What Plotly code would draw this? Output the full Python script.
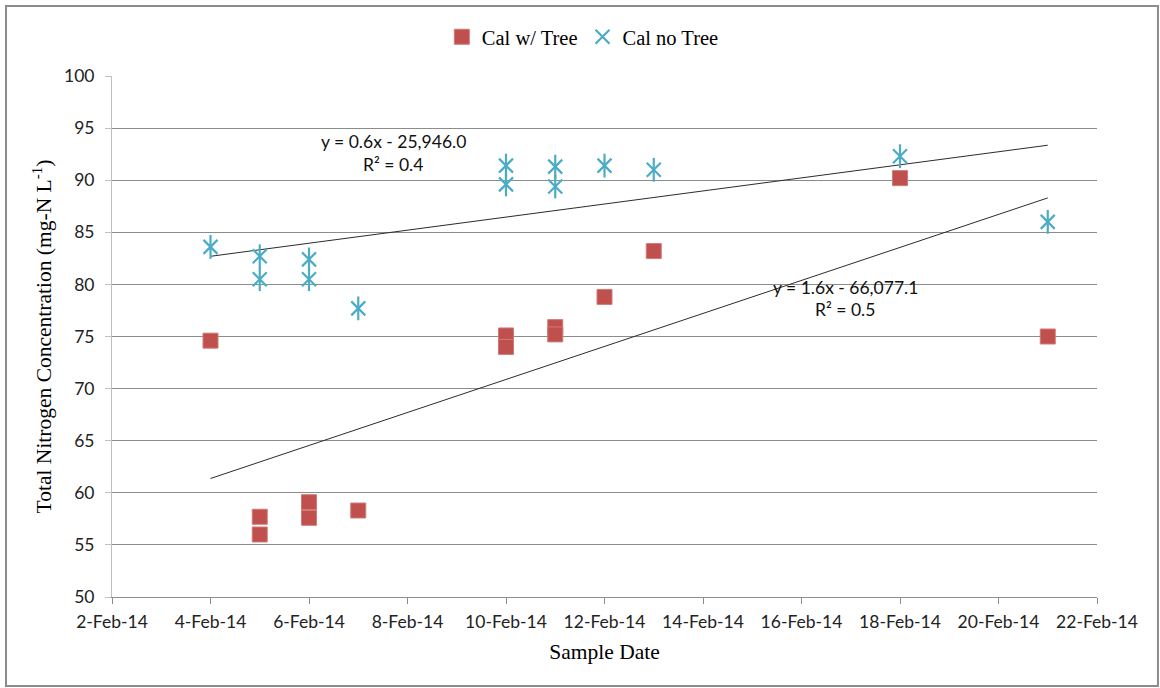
import numpy as np
import pandas as pd
import plotly.graph_objects as go

# ---- data ----
tree_dates = ["2014-02-04", "2014-02-05", "2014-02-05", "2014-02-06", "2014-02-06", "2014-02-07",
              "2014-02-10", "2014-02-10", "2014-02-11", "2014-02-11", "2014-02-12", "2014-02-13",
              "2014-02-18", "2014-02-21"]
tree_values = [74.6, 57.7, 56.0, 59.1, 57.6, 58.3, 75.1, 74.0, 75.9, 75.2, 78.8, 83.2, 90.2, 75.0]

notree_dates = ["2014-02-04", "2014-02-05", "2014-02-05", "2014-02-06", "2014-02-06", "2014-02-07",
                "2014-02-10", "2014-02-10", "2014-02-11", "2014-02-11", "2014-02-12", "2014-02-13",
                "2014-02-18", "2014-02-21"]
notree_values = [83.6, 82.7, 80.5, 82.4, 80.5, 77.7, 91.4, 89.6, 91.3, 89.4, 91.4, 91.0, 92.3, 86.0]

x_tick_start = "2014-02-02"
x_tick_end = "2014-02-22"
y_ticks = [50, 55, 60, 65, 70, 75, 80, 85, 90, 95, 100]

trend_notree_text = ["y = 0.6x - 25,946.0", "R² = 0.4"]
trend_tree_text = ["y = 1.6x - 66,077.1", "R² = 0.5"]

RED = "#C0504D"
BLUE = "#4BACC6"
SERIF = "Liberation Serif"
SANS = "Lato"


def trend(dates, values):
    d = pd.to_datetime(dates)
    days = (d - d.min()).days.values.astype(float)
    slope, intercept = np.polyfit(days, np.array(values), 1)
    xs = [d.min(), d.max()]
    ys = [intercept, intercept + slope * days.max()]
    return xs, ys


fig = go.Figure()

tx, ty = trend(tree_dates, tree_values)
nx, ny = trend(notree_dates, notree_values)

fig.add_trace(go.Scatter(x=nx, y=ny, mode="lines", line=dict(color="#2b2b2b", width=1),
                         showlegend=False, hoverinfo="skip"))
fig.add_trace(go.Scatter(x=tx, y=ty, mode="lines", line=dict(color="#2b2b2b", width=1),
                         showlegend=False, hoverinfo="skip"))

fig.add_trace(go.Scatter(
    x=pd.to_datetime(tree_dates), y=tree_values, mode="markers", name="Cal w/ Tree",
    marker=dict(symbol="square", size=15, color=RED, line=dict(color="#d07a77", width=1))))

fig.add_trace(go.Scatter(
    x=pd.to_datetime(notree_dates), y=notree_values, mode="markers", name="Cal no Tree",
    legendgroup="nt",
    marker=dict(symbol="x-thin-open", size=14, color=BLUE, line=dict(color=BLUE, width=2.2))))
fig.add_trace(go.Scatter(
    x=pd.to_datetime(notree_dates), y=notree_values, mode="markers", name="Cal no Tree",
    legendgroup="nt", showlegend=False,
    marker=dict(symbol="line-ns-open", size=17, color=BLUE, line=dict(color=BLUE, width=2.2))))

# trendline equations
for txt, yy in zip(trend_notree_text, [0.875, 0.831]):
    fig.add_annotation(x=0.2853, y=yy, xref="paper", yref="paper", text=txt, showarrow=False,
                       font=dict(family=SANS, size=17.5, color="#111"), xanchor="center", yanchor="middle")
for txt, yy in zip(trend_tree_text, [0.595, 0.551]):
    fig.add_annotation(x=0.7442, y=yy, xref="paper", yref="paper", text=txt, showarrow=False,
                       font=dict(family=SANS, size=17.5, color="#111"), xanchor="center", yanchor="middle")

# outer border
fig.add_shape(type="rect", xref="paper", yref="paper",
              x0=-0.1076, x1=1.0619, y0=-0.1708, y1=1.1344,
              line=dict(color="#8c8c8c", width=2), fillcolor="rgba(0,0,0,0)", layer="below")

fig.update_layout(
    width=1160, height=688,
    margin=dict(l=112, r=63, t=76, b=91),
    paper_bgcolor="white", plot_bgcolor="white",
    font=dict(family=SERIF, color="#000"),
    legend=dict(orientation="h", x=0.478, y=1.075, xanchor="center", yanchor="middle",
                font=dict(family=SERIF, size=20.5, color="#000"), itemwidth=30,
                bgcolor="rgba(0,0,0,0)"),
    xaxis=dict(
        type="date", range=[x_tick_start, x_tick_end], tick0=x_tick_start, dtick=2 * 86400000,
        tickformat="%-d-%b-%y", showgrid=False, showline=True, linecolor="#8c8c8c", linewidth=1,
        ticks="outside", ticklen=6, tickcolor="#8c8c8c", ticklabelstandoff=3,
        tickfont=dict(family=SANS, size=17.5, color="#222"),
        title=dict(text="Sample Date", font=dict(family=SERIF, size=21.5, color="#000"), standoff=12),
        zeroline=False),
    yaxis=dict(
        range=[50, 100], tickvals=y_ticks, showgrid=True, gridcolor="#8c8c8c", gridwidth=1,
        showline=True, linecolor="#bfbfbf", linewidth=1, ticks="outside", ticklen=6,
        tickcolor="#bfbfbf", ticklabelstandoff=7, tickfont=dict(family=SANS, size=17.5, color="#222"),
        title=dict(text="Total Nitrogen Concentration (mg-N L<sup>-1</sup>)",
                   font=dict(family=SERIF, size=21.5, color="#000"), standoff=6),
        zeroline=False),
)

fig.write_html("out.html")
